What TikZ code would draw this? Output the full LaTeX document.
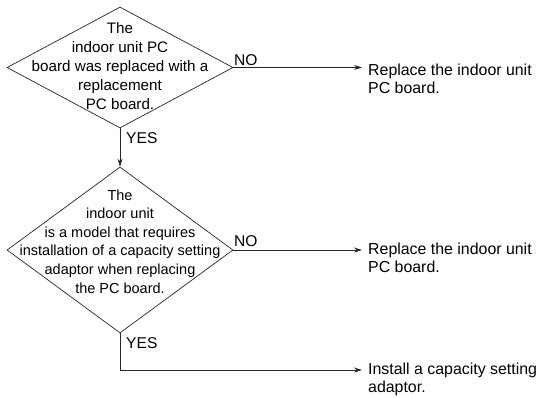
\documentclass[tikz,border=0pt]{standalone}
\usepackage{fontspec}
\setmainfont{Liberation Sans}
\usetikzlibrary{shapes.geometric,arrows.meta}
\begin{document}
\begin{tikzpicture}[x=1bp,y=-1bp,
  dia/.style={draw=black!85, line width=0.7bp, shape=diamond, inner sep=0pt},
  txt/.style={align=center, inner sep=0pt},
  res/.style={font=\fontsize{15.9bp}{18bp}\selectfont, align=left, anchor=west, inner xsep=6bp, inner ysep=0pt},
  lab/.style={font=\fontsize{15.6bp}{18bp}\selectfont, inner sep=0pt},
  arr/.style={draw=black!85, line width=0.7bp, -{Stealth[length=8bp,width=5bp]}},
  ln/.style={draw=black!85, line width=0.7bp}]
\useasboundingbox (0,0) rectangle (540,397);
% decisions
\node[dia, minimum width=226bp, minimum height=121bp] (d1) at (120,67.5) {};
\node[txt, font=\fontsize{15.2bp}{19bp}\selectfont] (t1) at (120,66) {The\\indoor unit PC\\board was replaced with a\\replacement\\PC board.};
\node[dia, minimum width=226bp, minimum height=166bp] (d2) at (120,250) {};
\node[txt, font=\fontsize{14.5bp}{18.6bp}\selectfont] (t2) at (120,241.5) {The\\indoor unit\\is a model that requires\\installation of a capacity setting\\adaptor when replacing\\the PC board.};
% results
\node[res] (r1) at (362,79) {Replace the indoor unit\\PC board.};
\node[res] (r2) at (362,258) {Replace the indoor unit\\PC board.};
\node[res] (r3) at (362,379) {Install a capacity setting\\adaptor.};
% labels
\node[lab, anchor=west] (no1) at (234,60) {NO};
\node[lab, anchor=west] (yes1) at (126,138) {YES};
\node[lab, anchor=west] (no2) at (234,241) {NO};
\node[lab, anchor=west] (yes2) at (126,343) {YES};
\coordinate (yb) at (120,370);
% connectors
\draw[arr] (d1.east) -- (d1.east -| r1.west);
\draw[arr] (d1.south) -- (d2.north);
\draw[arr] (d2.east) -- (d2.east -| r2.west);
\draw[ln] (d2.south) -- (yb);
\draw[arr] (yb) -- (yb -| r3.west);
\end{tikzpicture}
\end{document}
